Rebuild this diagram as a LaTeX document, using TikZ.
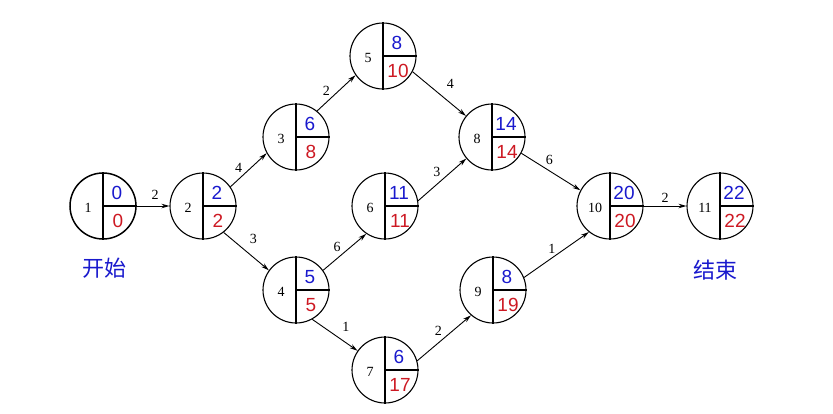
\documentclass[tikz,border=0pt]{standalone}
\usepackage{fontspec}
\setmainfont{Liberation Serif}
\newfontfamily\handfont{Liberation Sans}
\newfontfamily\cjk{Noto Sans CJK SC}
\usetikzlibrary{arrows.meta}
\definecolor{hblue}{RGB}{25,25,205}
\definecolor{hred}{RGB}{205,25,35}
\newcommand\evnode[7]{% name, x, y, number, early, late, extra style
  \node[ev,#7] (#1) at (#2,#3) {};
  \draw[divider] (#1.north) -- (#1.south) (#1.center) -- (#1.east);
  \node[num] (#1n) at ([xshift=-15pt,yshift=-2pt]#1.center) {#4};
  \node[es] (#1e) at ([xshift=14pt,yshift=13pt]#1.center) {#5};
  \node[ls] (#1l) at ([xshift=15pt,yshift=-15pt]#1.center) {#6};
}
\begin{document}
\begin{tikzpicture}[x=1pt,y=-1pt,
  ev/.style={circle,draw,line width=1.1pt,minimum size=66pt,inner sep=0pt},
  divider/.style={line width=1.1pt},
  arr/.style={line width=0.9pt,-{Stealth[length=8pt,width=4.5pt]}},
  lbl/.style={font=\fontsize{14}{16}\selectfont,inner sep=0pt},
  num/.style={font=\fontsize{14}{16}\selectfont,inner sep=0pt},
  es/.style={font=\handfont\fontsize{19}{19}\selectfont,text=hblue,inner sep=0pt},
  ls/.style={font=\handfont\fontsize{19}{19}\selectfont,text=hred,inner sep=0pt},
  cjklbl/.style={font=\cjk\fontsize{22}{22}\selectfont,text=hblue,inner sep=0pt},
]
\useasboundingbox (0,0) rectangle (833,413);

\evnode{n1}{103}{206}{1}{0}{0}{line width=1.5pt}
\evnode{n2}{203}{206}{2}{2}{2}{}
\evnode{n3}{296}{137}{3}{6}{8}{}
\evnode{n4}{296}{290}{4}{5}{5}{}
\evnode{n5}{383}{56}{5}{8}{10}{}
\evnode{n6}{385}{206}{6}{11}{11}{}
\evnode{n7}{385}{370}{7}{6}{17}{}
\evnode{n8}{492}{137}{8}{14}{14}{}
\evnode{n9}{493}{290}{9}{8}{19}{}
\evnode{n10}{610}{206}{10}{20}{20}{}
\evnode{n11}{720}{206}{11}{22}{22}{}

\draw[arr] (n1.0) -- (n2.180) node[lbl,midway,xshift=2pt,yshift=11pt] (e12) {2};
\draw[arr] (n2.35) -- (n3.209) node[lbl,midway,xshift=-10pt,yshift=2pt] (e23) {4};
\draw[arr] (n2.308) -- (n4.144) node[lbl,midway,xshift=7pt,yshift=12pt] (e24) {3};
\draw[arr] (n3.51) -- (n5.215) node[lbl,midway,xshift=-10pt,yshift=2.5pt] (e35) {2};
\draw[arr] (n5.332) -- (n8.141) node[lbl,midway,xshift=11pt,yshift=10pt] (e58) {4};
\draw[arr] (n4.36) -- (n6.236) node[lbl,midway,xshift=-7.6pt,yshift=5pt] (e46) {6};
\draw[arr] (n6.9) -- (n8.220) node[lbl,midway,xshift=-5.4pt,yshift=7.8pt] (e68) {3};
\draw[arr] (n4.299) -- (n7.145) node[lbl,midway,xshift=11pt,yshift=7.7pt] (e47) {1};
\draw[arr] (n7.16) -- (n9.229) node[lbl,midway,xshift=-5.7pt,yshift=7.2pt] (e79) {2};
\draw[arr] (n8.331) -- (n10.152) node[lbl,midway,xshift=-1.6pt,yshift=11.8pt] (e810) {6};
\draw[arr] (n9.22) -- (n10.231) node[lbl,midway,xshift=-4.7pt,yshift=5.6pt] (e910) {1};
\draw[arr] (n10.0) -- (n11.180) node[lbl,midway,xshift=0pt,yshift=8pt] (e1011) {2};

\node[cjklbl] (start) at (104,268) {开始};
\node[cjklbl] (finish) at (715,270) {结束};
\end{tikzpicture}
\end{document}
